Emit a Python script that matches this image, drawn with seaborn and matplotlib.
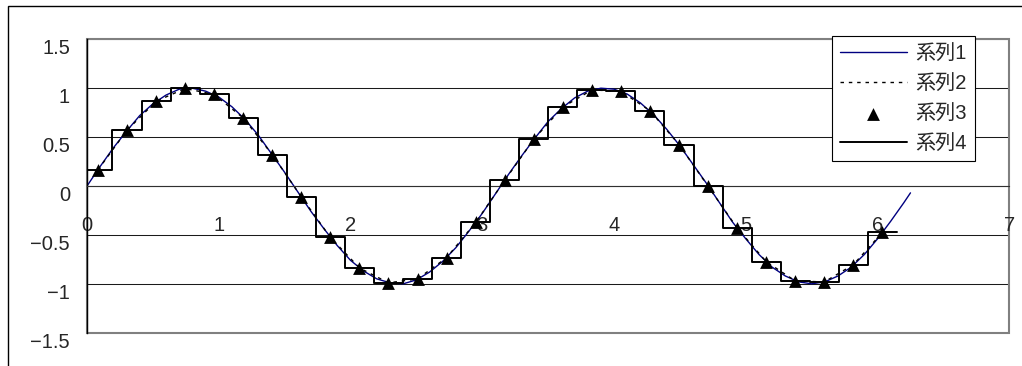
import matplotlib
matplotlib.use("Agg")
import matplotlib.pyplot as plt
from matplotlib.patches import Rectangle
from matplotlib.transforms import blended_transform_factory, ScaledTranslation
import seaborn as sns

# ---- data -------------------------------------------------------------
series_names = ["系列1", "系列2", "系列3", "系列4"]

# continuous waveform (series 1)
curve_x = [0.0, 0.1, 0.2, 0.3, 0.4, 0.5, 0.6, 0.7, 0.8, 0.9,
           1.0, 1.1, 1.2, 1.3, 1.4, 1.5, 1.6, 1.7, 1.8, 1.9,
           2.0, 2.1, 2.2, 2.3, 2.4, 2.5, 2.6, 2.7, 2.8, 2.9,
           3.0, 3.1, 3.2, 3.3, 3.4, 3.5, 3.6, 3.7, 3.8, 3.9,
           4.0, 4.1, 4.2, 4.3, 4.4, 4.5, 4.6, 4.7, 4.8, 4.9,
           5.0, 5.1, 5.2, 5.3, 5.4, 5.5, 5.6, 5.7, 5.8, 5.9,
           6.0, 6.1, 6.2, 6.25]
curve_y = [0.00, 0.20, 0.39, 0.56, 0.72, 0.84, 0.93, 0.99, 1.00, 0.97,
           0.91, 0.81, 0.68, 0.52, 0.33, 0.14, -0.06, -0.26, -0.44, -0.61,
           -0.76, -0.87, -0.95, -0.99, -1.00, -0.96, -0.88, -0.77, -0.63, -0.46,
           -0.28, -0.08, 0.12, 0.31, 0.49, 0.66, 0.79, 0.90, 0.97, 1.00,
           0.99, 0.94, 0.85, 0.73, 0.58, 0.41, 0.22, 0.03, -0.17, -0.37,
           -0.54, -0.70, -0.83, -0.92, -0.98, -1.00, -0.98, -0.92, -0.83, -0.70,
           -0.54, -0.36, -0.17, -0.07]

# sampled values (series 2, 3 and held as series 4)
sample_x = [0.083, 0.304, 0.524, 0.745, 0.965, 1.186, 1.406, 1.627, 1.847, 2.068,
            2.288, 2.509, 2.729, 2.950, 3.170, 3.391, 3.611, 3.832, 4.052, 4.273,
            4.493, 4.714, 4.934, 5.155, 5.375, 5.596, 5.816, 6.037]
sample_y = [0.165, 0.571, 0.866, 0.997, 0.936, 0.696, 0.321, -0.112, -0.525, -0.838,
            -0.990, -0.950, -0.733, -0.373, 0.057, 0.478, 0.807, 0.982, 0.969, 0.770,
            0.424, -0.003, -0.429, -0.774, -0.970, -0.981, -0.805, -0.475]

x_ticks = [0, 1, 2, 3, 4, 5, 6, 7]
x_tick_labels = ["0", "1", "2", "3", "4", "5", "6", "7"]
y_ticks = [1.5, 1, 0.5, 0, -0.5, -1, -1.5]
y_tick_labels = ["1.5", "1", "0.5", "0", "-0.5", "-1", "-1.5"]

# ---- style ------------------------------------------------------------
sns.set_style("white")
plt.rcParams["font.family"] = ["Liberation Sans", "Noto Sans CJK JP"]
FS = 14.5

W, H = 1022, 366
fig = plt.figure(figsize=(W / 100, H / 100), dpi=100)
ax = fig.add_axes([87 / W, 33.3 / H, 922.3 / W, 293.4 / H])

# series 1: continuous curve
sns.lineplot(x=curve_x, y=curve_y, ax=ax, color="#000080", lw=1.0,
             label=series_names[0], sort=False, zorder=2)
# series 2: dotted line through the samples
sns.lineplot(x=sample_x, y=sample_y, ax=ax, color="black", lw=1.0,
             linestyle=(0, (2.5, 3.5)), label=series_names[1], sort=False, zorder=2.1)
# series 3: sample markers
sns.scatterplot(x=sample_x, y=sample_y, ax=ax, marker="^", s=85, color="black",
                edgecolor="black", linewidth=0, label=series_names[2], zorder=3)
# series 4: sample-and-hold, each value held for one sampling interval
edges = [sample_x[0] - (sample_x[1] - sample_x[0]) / 2]
edges += [(a + b) / 2 for a, b in zip(sample_x[:-1], sample_x[1:])]
edges += [sample_x[-1] + (sample_x[-1] - sample_x[-2]) / 2]
held = list(sample_y) + [sample_y[-1]]
sns.lineplot(x=edges, y=held, ax=ax, color="black", lw=1.4, drawstyle="steps-post",
             label=series_names[3], sort=False, zorder=3.5)

ax.set_xlim(0, 7)
ax.set_ylim(-1.5, 1.5)
ax.set_xlabel("")
ax.set_ylabel("")

# horizontal gridlines
ax.set_yticks(y_ticks)
ax.grid(axis="y", color="#1a1a1a", lw=0.75, zorder=0.5)
ax.grid(axis="x", visible=False)
ax.set_axisbelow(True)

# value axis on the left, category axis crossing at y = 0
for side in ("top", "right"):
    ax.spines[side].set_visible(False)
ax.spines["left"].set_color("black")
ax.spines["left"].set_linewidth(1.0)
ax.spines["bottom"].set_position(("data", 0))
ax.spines["bottom"].set_color("#303030")
ax.spines["bottom"].set_linewidth(0.8)
ax.set_xticks(x_ticks)
ax.tick_params(axis="x", direction="in", length=4.3, width=0.8, color="#303030",
               labelbottom=False)
ax.tick_params(axis="y", length=0, labelleft=False)

# plot-area frame
ax.add_patch(Rectangle((0, 0), 1, 1, transform=ax.transAxes, fill=False,
                       edgecolor="#808080", lw=1.5, clip_on=False, zorder=0.6))

# tick labels
px = fig.dpi_scale_trans
for v, t in zip(x_ticks, x_tick_labels):
    ax.text(v, 0, t, transform=ax.transData + ScaledTranslation(0, -45 / 100, px),
            ha="center", va="baseline", fontsize=FS, zorder=1.5, clip_on=False)
ytrans = blended_transform_factory(ax.transAxes, ax.transData)
for v, t in zip(y_ticks, y_tick_labels):
    ax.text(0, v, t.replace("-", "\u2212"),
            transform=ytrans + ScaledTranslation(-17 / 100, -15 / 100, px),
            ha="right", va="baseline", fontsize=FS, clip_on=False)

# legend
handles, labels = ax.get_legend_handles_labels()
leg = ax.legend(handles, labels, loc="upper left",
                bbox_to_anchor=(832 / W, 1 - 36 / H), bbox_transform=fig.transFigure,
                borderaxespad=0, frameon=True, fancybox=False, edgecolor="black",
                framealpha=1, fontsize=FS, handlelength=3.3, handletextpad=0.45,
                labelspacing=0.55, borderpad=0.4)
leg.get_frame().set_linewidth(0.8)
leg.set_zorder(5)

# chart frame
fig.add_artist(Rectangle((8 / W, -0.1), 1.2, 1.1 - 5.5 / H, transform=fig.transFigure,
                         fill=False, edgecolor="black", lw=1.0))

fig.savefig("out.png", dpi=100)
